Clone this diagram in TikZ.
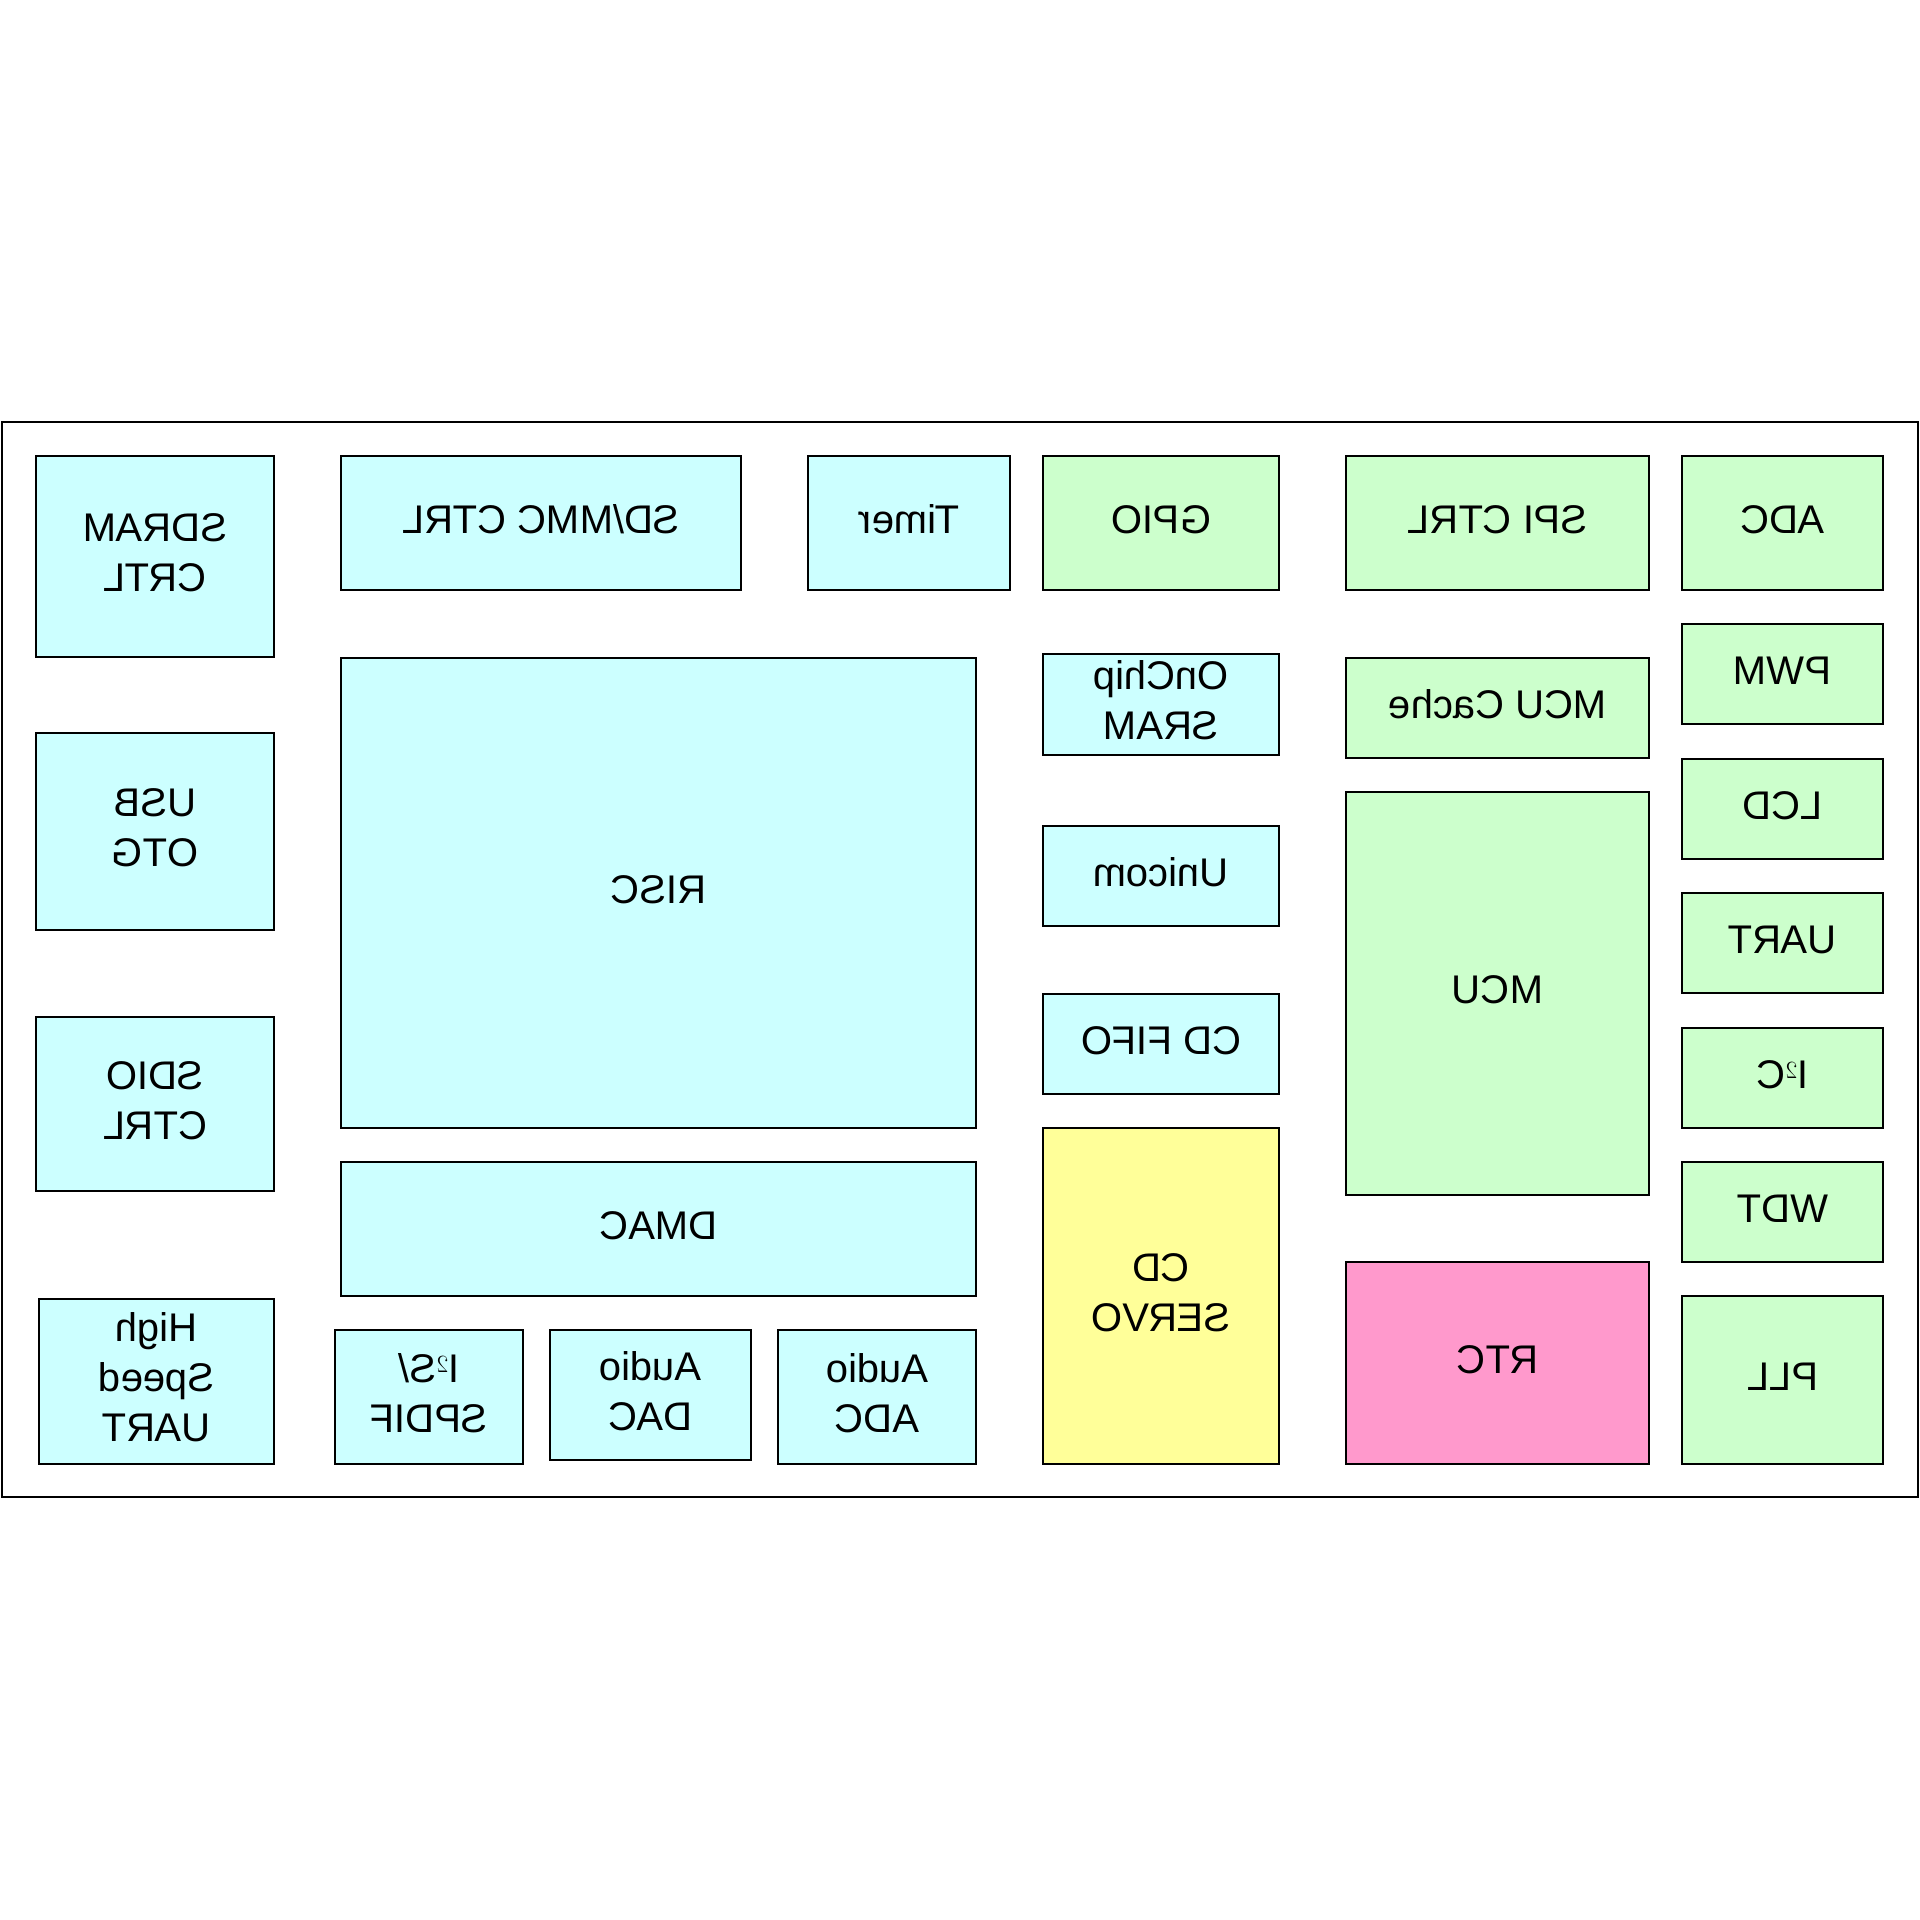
\documentclass[tikz,border=0pt]{standalone}
\usepackage{graphicx}
\usepackage{fontspec}
\setmainfont{Liberation Sans}
\definecolor{cy}{HTML}{CCFFFF}
\definecolor{gr}{HTML}{CCFFCC}
\definecolor{ye}{HTML}{FFFF99}
\definecolor{pk}{HTML}{FF99CC}
\newcommand\mirtext[1]{\reflectbox{\begin{tabular}{@{}c@{}}#1\end{tabular}}}
\newcommand\blk[7]{\node[blockbox,fill=#6,minimum width={#4-#2},minimum height={#5-#3}] (#1) at ({(#2+#4)/2},{(#3+#5)/2}) {\mirtext{#7}};}
\tikzset{blockbox/.style={draw,line width=2.5pt,inner sep=0pt,font=\fontsize{40}{50}\selectfont}}
\begin{document}
\begin{tikzpicture}[x=1pt,y=-1pt]
\useasboundingbox (0,0) rectangle (1920,1920);
\node[draw,line width=2.5pt,minimum width=1916pt,minimum height=1075pt,inner sep=0pt] (chip) at (960,959.5) {};
\blk{sdram}{36}{456}{274}{657}{cy}{SDRAM\\CRTL}
\blk{sdmmc}{341}{456}{741}{590}{cy}{SD/MMC CTRL}
\blk{timer}{808}{456}{1010}{590}{cy}{Timer}
\blk{gpio}{1043}{456}{1279}{590}{gr}{GPIO}
\blk{spi}{1346}{456}{1649}{590}{gr}{SPI CTRL}
\blk{adc}{1682}{456}{1883}{590}{gr}{ADC}
\blk{pwm}{1682}{624}{1883}{724}{gr}{PWM}
\blk{lcd}{1682}{759}{1883}{859}{gr}{LCD}
\blk{uart}{1682}{893}{1883}{993}{gr}{UART}
\blk{iic}{1682}{1028}{1883}{1128}{gr}{I$^2$C}
\blk{wdt}{1682}{1162}{1883}{1262}{gr}{WDT}
\blk{pll}{1682}{1296}{1883}{1464}{gr}{PLL}
\blk{mcucache}{1346}{658}{1649}{758}{gr}{MCU Cache}
\blk{mcu}{1346}{792}{1649}{1195}{gr}{MCU}
\blk{rtc}{1346}{1262}{1649}{1464}{pk}{RTC}
\blk{sram}{1043}{654}{1279}{755}{cy}{OnChip\\SRAM}
\blk{unicom}{1043}{826}{1279}{926}{cy}{Unicom}
\blk{cdfifo}{1043}{994}{1279}{1094}{cy}{CD FIFO}
\blk{servo}{1043}{1128}{1279}{1464}{ye}{CD\\SERVO}
\blk{risc}{341}{658}{976}{1128}{cy}{RISC}
\blk{dmac}{341}{1162}{976}{1296}{cy}{DMAC}
\blk{iis}{335}{1330}{523}{1464}{cy}{I$^2$S/\\SPDIF}
\blk{adac}{550}{1330}{751}{1460}{cy}{Audio\\DAC}
\blk{aadc}{778}{1330}{976}{1464}{cy}{Audio\\ADC}
\blk{usb}{36}{733}{274}{930}{cy}{USB\\OTG}
\blk{sdio}{36}{1017}{274}{1191}{cy}{SDIO\\CTRL}
\blk{hsuart}{39}{1299}{274}{1464}{cy}{High\\Speed\\UART}
\end{tikzpicture}
\end{document}
